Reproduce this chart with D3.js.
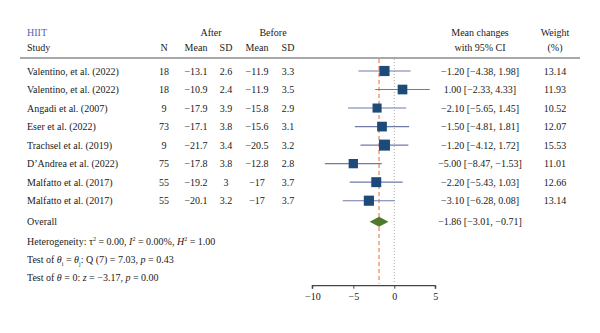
<!DOCTYPE html>
<html>
<head>
<meta charset="utf-8">
<script src="https://cdn.jsdelivr.net/npm/d3@7"></script>
<style>
  html, body { margin: 0; padding: 0; background: #fff; }
  svg text { font-family: "Liberation Serif", "DejaVu Serif", serif; fill: #1a1a1a; }
</style>
</head>
<body>
<div id="forest"></div>
<script>
// forest plot - HIIT, mean changes with 95% CI
const studies = ['Valentino, et al. (2022)', 'Valentino, et al. (2022)', 'Angadi et al. (2007)',
  'Eser et al. (2022)', 'Trachsel et al. (2019)', 'D\u2019Andrea et al. (2022)',
  'Malfatto et al. (2017)', 'Malfatto et al. (2017)'];
const nVals = [18, 18, 9, 73, 9, 75, 55, 55];
const afterMean = ['\u221213.1', '\u221210.9', '\u221217.9', '\u221217.1', '\u221221.7', '\u221217.8', '\u221219.2', '\u221220.1'];
const afterSD = ['2.6', '2.4', '3.9', '3.8', '3.4', '3.8', '3', '3.2'];
const beforeMean = ['\u221211.9', '\u221211.9', '\u221215.8', '\u221215.6', '\u221220.5', '\u221212.8', '\u221217', '\u221217'];
const beforeSD = ['3.3', '3.5', '2.9', '3.1', '3.2', '2.8', '3.7', '3.7'];
const effect = [-1.20, 1.00, -2.10, -1.50, -1.20, -5.00, -2.20, -3.10];
const ciLow = [-4.38, -2.33, -5.65, -4.81, -4.12, -8.47, -5.43, -6.28];
const ciHigh = [1.98, 4.33, 1.45, 1.81, 1.72, -1.53, 1.03, 0.08];
const weights = ['13.14', '11.93', '10.52', '12.07', '15.53', '11.01', '12.66', '13.14'];
const overall = { est: -1.86, lo: -3.01, hi: -0.71 };
const axisTicks = [-10, -5, 0, 5];
const statLines = [
  'Heterogeneity: \u03c4<sup>2</sup> = 0.00, <i>I</i><sup>2</sup> = 0.00%, <i>H</i><sup>2</sup> = 1.00',
  'Test of <i>\u03b8</i><sub>i</sub> = <i>\u03b8</i><sub>j</sub>: Q (7) = 7.03, <i>p</i> = 0.43',
  'Test of <i>\u03b8</i> = 0: <i>z</i> = \u22123.17, <i>p</i> = 0.00'
];

const fmt = v => (v < 0 ? '\u2212' : '') + Math.abs(v).toFixed(2);

const width = 600, height = 333;
const svg = d3.select('#forest').append('svg')
  .attr('width', width).attr('height', height);

const fs = 10;
const x = d3.scaleLinear().domain([-10, 5]).range([312.3, 435.3]);
const rowY = d3.scalePoint().domain(d3.range(studies.length)).range([71, 200.7]);
const overallY = 221.7;
const axisY = 285.7;

// column positions
const col = { study: 27, n: 164, am: 196, asd: 226, bm: 257, bsd: 288, ci: 480, w: 555 };

// header
svg.append('text').attr('x', col.study).attr('y', 36).attr('font-size', fs)
  .style('fill', '#5b5fb0').text('HIIT');
svg.append('text').attr('x', col.study).attr('y', 51).attr('font-size', fs).text('Study');
svg.append('text').attr('x', 211).attr('y', 36).attr('font-size', fs).attr('text-anchor', 'middle').text('After');
svg.append('text').attr('x', 273).attr('y', 36).attr('font-size', fs).attr('text-anchor', 'middle').text('Before');
[['N', col.n], ['Mean', col.am], ['SD', col.asd], ['Mean', col.bm], ['SD', col.bsd]].forEach(([t, cx]) => {
  svg.append('text').attr('x', cx).attr('y', 51).attr('font-size', fs).attr('text-anchor', 'middle').text(t);
});
svg.append('text').attr('x', col.ci).attr('y', 36).attr('font-size', fs).attr('text-anchor', 'middle').text('Mean changes');
svg.append('text').attr('x', col.ci).attr('y', 51).attr('font-size', fs).attr('text-anchor', 'middle').text('with 95% CI');
svg.append('text').attr('x', col.w).attr('y', 36).attr('font-size', fs).attr('text-anchor', 'middle').text('Weight');
svg.append('text').attr('x', col.w).attr('y', 51).attr('font-size', fs).attr('text-anchor', 'middle').text('(%)');

svg.append('line').attr('x1', 20).attr('x2', 580).attr('y1', 58).attr('y2', 58)
  .attr('stroke', '#555').attr('stroke-width', 1.2);

// reference lines
svg.append('line').attr('x1', x(0)).attr('x2', x(0)).attr('y1', 59).attr('y2', axisY - 2)
  .attr('stroke', '#999').attr('stroke-width', 0.8).attr('stroke-dasharray', '1,2');
svg.append('line').attr('x1', x(overall.est)).attr('x2', x(overall.est)).attr('y1', 59).attr('y2', axisY - 2)
  .attr('stroke', '#f4a07a').attr('stroke-width', 1.6).attr('stroke-dasharray', '4,3');

// rows
const rows = svg.append('g');
studies.forEach((s, i) => {
  const y = rowY(i);
  const ty = y + 3.5;
  rows.append('text').attr('x', col.study).attr('y', ty).attr('font-size', fs).text(s);
  [[nVals[i], col.n], [afterMean[i], col.am], [afterSD[i], col.asd], [beforeMean[i], col.bm], [beforeSD[i], col.bsd]]
    .forEach(([t, cx]) => rows.append('text').attr('x', cx).attr('y', ty).attr('font-size', fs)
      .attr('text-anchor', 'middle').text(t));
  rows.append('text').attr('x', col.ci).attr('y', ty).attr('font-size', fs).attr('text-anchor', 'middle')
    .text(`${fmt(effect[i])} [${fmt(ciLow[i])}, ${fmt(ciHigh[i])}]`);
  rows.append('text').attr('x', col.w).attr('y', ty).attr('font-size', fs).attr('text-anchor', 'middle').text(weights[i]);

  rows.append('line').attr('x1', x(ciLow[i])).attr('x2', x(ciHigh[i])).attr('y1', y).attr('y2', y)
    .attr('stroke', '#6f7aa8').attr('stroke-width', 1.1);
  const sz = Math.sqrt(+weights[i]) * 2.8;
  rows.append('rect').attr('x', x(effect[i]) - sz / 2).attr('y', y - sz / 2)
    .attr('width', sz).attr('height', sz).attr('fill', '#1d4a78');
});

// overall
svg.append('text').attr('x', col.study).attr('y', overallY + 3.5).attr('font-size', fs).text('Overall');
svg.append('path')
  .attr('d', `M${x(overall.lo)},${overallY} L${x(overall.est)},${overallY - 5} L${x(overall.hi)},${overallY} L${x(overall.est)},${overallY + 5} Z`)
  .attr('fill', '#4e7a2c');
svg.append('text').attr('x', col.ci).attr('y', overallY + 3.5).attr('font-size', fs).attr('text-anchor', 'middle')
  .text(`${fmt(overall.est)} [${fmt(overall.lo)}, ${fmt(overall.hi)}]`);

// stats (html for sub/superscripts)
statLines.forEach((h, i) => {
  const fo = svg.append('foreignObject').attr('x', col.study).attr('y', 234.5 + i * 18.2)
    .attr('width', 260).attr('height', 16);
  fo.append('xhtml:div')
    .style('font-family', '"Liberation Serif", "DejaVu Serif", serif')
    .style('font-size', fs + 'px').style('color', '#1a1a1a').style('white-space', 'nowrap')
    .style('line-height', '14px')
    .html(h.replace(/<sup>/g, '<sup style="font-size:6px;line-height:0">')
      .replace(/<sub>/g, '<sub style="font-size:6px;line-height:0">'));
});

// axis
const ax = svg.append('g').attr('transform', `translate(0,${axisY})`)
  .call(d3.axisBottom(x).tickValues(axisTicks).tickSize(3).tickFormat(d => d < 0 ? '\u2212' + Math.abs(d) : d));
ax.select('.domain').attr('stroke', '#444').attr('stroke-width', 1.2).attr('d', `M${x(-10)},3V0H${x(5)}V3`);
ax.selectAll('.tick line').attr('stroke', '#444');
ax.selectAll('.tick text').attr('font-size', fs).attr('font-family', '"Liberation Serif", serif').attr('fill', '#1a1a1a').attr('dy', '0.8em');
</script>
</body>
</html>
